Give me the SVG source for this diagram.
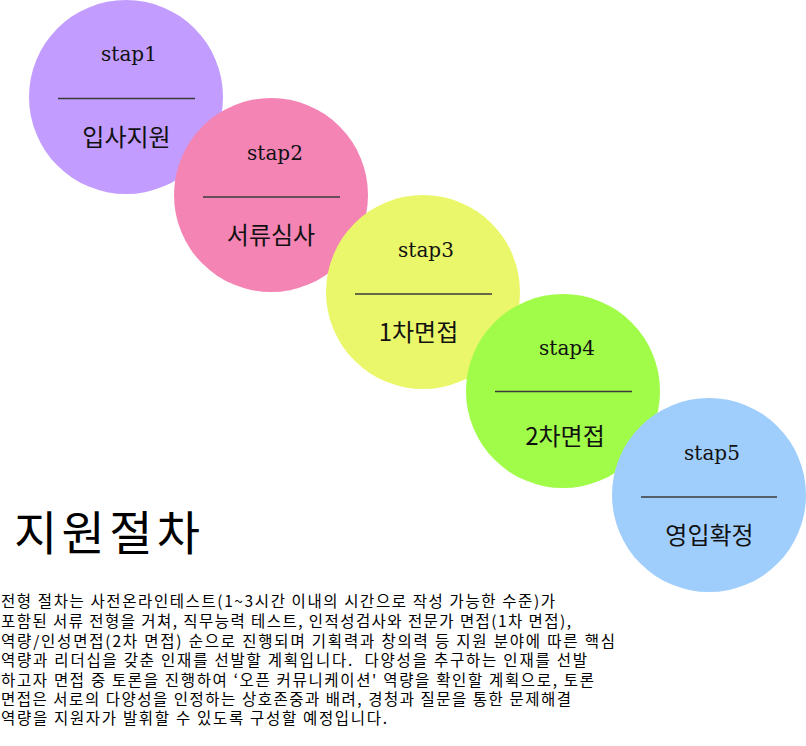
<svg xmlns="http://www.w3.org/2000/svg" width="806" height="746" viewBox="0 0 806 746">
<style>
.step{font-family:"DejaVu Serif","Liberation Serif",serif;font-size:20px;fill:#111;text-anchor:middle}
.name{font-family:"Noto Sans CJK KR","Noto Sans",sans-serif;font-size:24px;fill:#111;text-anchor:middle}
.sep{stroke:#3a3a3a;stroke-width:1.5}
.title{font-family:"Noto Sans CJK KR","Noto Sans",sans-serif;font-size:47px;fill:#000}
.body{font-family:"Noto Sans CJK KR","Noto Sans",sans-serif;font-size:15.5px;fill:#000;white-space:pre}
</style>
<rect width="806" height="746" fill="#ffffff"/>
<g id="step1">
<circle cx="126" cy="97" r="97" fill="#c29cff"/>
<text class="step" x="129" y="61">stap1</text>
<line class="sep" x1="58" y1="98.5" x2="195" y2="98.5"/>
<text class="name" x="126.5" y="146">입사지원</text>
</g>
<g id="step2">
<circle cx="271" cy="195" r="97" fill="#f484b4"/>
<text class="step" x="275" y="160">stap2</text>
<line class="sep" x1="203" y1="197" x2="340" y2="197"/>
<text class="name" x="271" y="244">서류심사</text>
</g>
<g id="step3">
<circle cx="423" cy="292" r="97" fill="#eaf76a"/>
<text class="step" x="426" y="257">stap3</text>
<line class="sep" x1="355" y1="294" x2="492" y2="294"/>
<text class="name" x="418.5" y="341">1차면접</text>
</g>
<g id="step4">
<circle cx="563" cy="391" r="97" fill="#a0fc48"/>
<text class="step" x="567" y="355">stap4</text>
<line class="sep" x1="495" y1="391.5" x2="632" y2="391.5"/>
<text class="name" x="565" y="445">2차면접</text>
</g>
<g id="step5">
<circle cx="709" cy="495" r="97" fill="#a0cefc"/>
<text class="step" x="712" y="460">stap5</text>
<line class="sep" x1="641" y1="497" x2="777" y2="497"/>
<text class="name" x="709.5" y="544">영입확정</text>
</g>
<g id="title">
<text class="title" x="14" y="550" textLength="186" lengthAdjust="spacing">지원절차</text>
</g>
<g id="description">
<text class="body" x="1" y="607" textLength="554" lengthAdjust="spacing">전형 절차는 사전온라인테스트(1~3시간 이내의 시간으로 작성 가능한 수준)가</text>
<text class="body" x="1" y="627" textLength="570" lengthAdjust="spacing">포함된 서류 전형을 거쳐, 직무능력 테스트, 인적성검사와 전문가 면접(1차 면접),</text>
<text class="body" x="1" y="647" textLength="614" lengthAdjust="spacing">역량/인성면접(2차 면접) 순으로 진행되며 기획력과 창의력 등 지원 분야에 따른 핵심</text>
<text class="body" x="1" y="666" textLength="586" lengthAdjust="spacing">역량과 리더십을 갖춘 인재를 선발할 계획입니다.  다양성을 추구하는 인재를 선발</text>
<text class="body" x="1" y="686" textLength="593" lengthAdjust="spacing">하고자 면접 중 토론을 진행하여 ‘오픈 커뮤니케이션' 역량을 확인할 계획으로, 토론</text>
<text class="body" x="1" y="705" textLength="570" lengthAdjust="spacing">면접은 서로의 다양성을 인정하는 상호존중과 배려, 경청과 질문을 통한 문제해결</text>
<text class="body" x="1" y="724" textLength="386" lengthAdjust="spacing">역량을 지원자가 발휘할 수 있도록 구성할 예정입니다.</text>
</g>
</svg>
